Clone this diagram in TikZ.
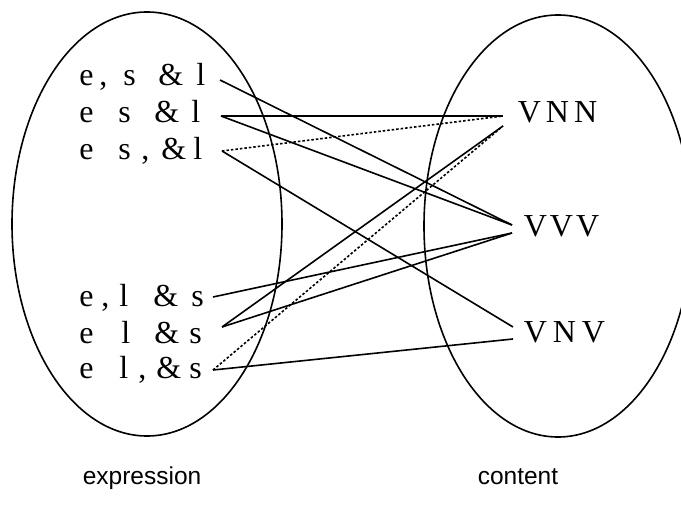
\documentclass[tikz,border=0pt]{standalone}
\usepackage{fontspec}
\setmainfont{Liberation Serif}
\newfontfamily\labelsans{Liberation Sans}
% place a glyph at a fixed horizontal offset (in bp) from the start of a label
\newcommand\gl[2]{\rlap{\hspace*{#1bp}#2}}
\tikzset{
  every picture/.style={line width=1.6bp},
  tag/.style={inner sep=0pt, anchor=base west, font=\fontsize{32bp}{36bp}\selectfont},
  caption/.style={inner sep=0pt, anchor=base west, font=\labelsans\fontsize{24.5bp}{28bp}\selectfont},
  link/.style={draw=black, line width=1.6bp},
  hint/.style={draw=black, line width=1.6bp, dash pattern=on 2.5bp off 2bp},
}
\begin{document}
\begin{tikzpicture}[x=1bp, y=-1bp]
  \useasboundingbox (0,0) rectangle (681,507);
  \clip (0,0) rectangle (681,507);

  % the two sets
  \draw (147,224) ellipse [x radius=135bp, y radius=212bp];
  \draw (558,226) ellipse [x radius=134bp, y radius=211bp];

  % expression forms
  \node[tag] (x1) at (78,86)  {\gl{0}{e}\gl{20}{,}\gl{44}{s}\gl{79}{\&}\gl{117}{l}};
  \node[tag] (x2) at (78,123) {\gl{0}{e}\gl{39}{s}\gl{75}{\&}\gl{112}{l}};
  \node[tag] (x3) at (78,160) {\gl{0}{e}\gl{39}{s}\gl{62}{,}\gl{82}{\&}\gl{114}{l}};
  \node[tag] (x4) at (78,306) {\gl{0}{e}\gl{22}{,}\gl{40}{l}\gl{74}{\&}\gl{112}{s}};
  \node[tag] (x5) at (78,343) {\gl{0}{e}\gl{42}{l}\gl{75}{\&}\gl{110}{s}};
  \node[tag] (x6) at (78,378) {\gl{0}{e}\gl{40}{l}\gl{59}{,}\gl{77}{\&}\gl{110}{s}};

  % content patterns
  \node[tag] (c1) at (517,123) {V\hspace{5bp}N\hspace{5bp}N};
  \node[tag] (c2) at (523,237) {V\hspace{3bp}V\hspace{3bp}V};
  \node[tag] (c3) at (523,342) {V\hspace{6bp}N\hspace{6bp}V};

  % captions
  \node[caption] (ex) at (82,484)  {expression};
  \node[caption] (co) at (477,484) {content};

  % line ends beside the forms
  \coordinate (a1) at (220,80);
  \coordinate (a2) at (221,116);
  \coordinate (a3) at (222,151);
  \coordinate (a4) at (213,297);
  \coordinate (a5) at (222,327);
  \coordinate (a6) at (213,370);

  % line ends beside the patterns
  \coordinate (b1u) at (503,116);
  \coordinate (b1l) at (503,126);
  \coordinate (b2u) at (512,225);
  \coordinate (b2l) at (512,233);
  \coordinate (b3u) at (513,327);
  \coordinate (b3l) at (513,339);

  % mappings
  \draw[link] (a1) -- (b2u);
  \draw[link] (a2) -- (b1u);
  \draw[link] (a2) -- (b2u);
  \draw[hint] (a3) -- (b1u);
  \draw[link] (a3) -- (b3u);
  \draw[link] (a4) -- (b2l);
  \draw[link] (a5) -- (b1l);
  \draw[link] (a5) -- (b2l);
  \draw[hint] (a6) -- (b1l);
  \draw[link] (a6) -- (b3l);
\end{tikzpicture}
\end{document}
